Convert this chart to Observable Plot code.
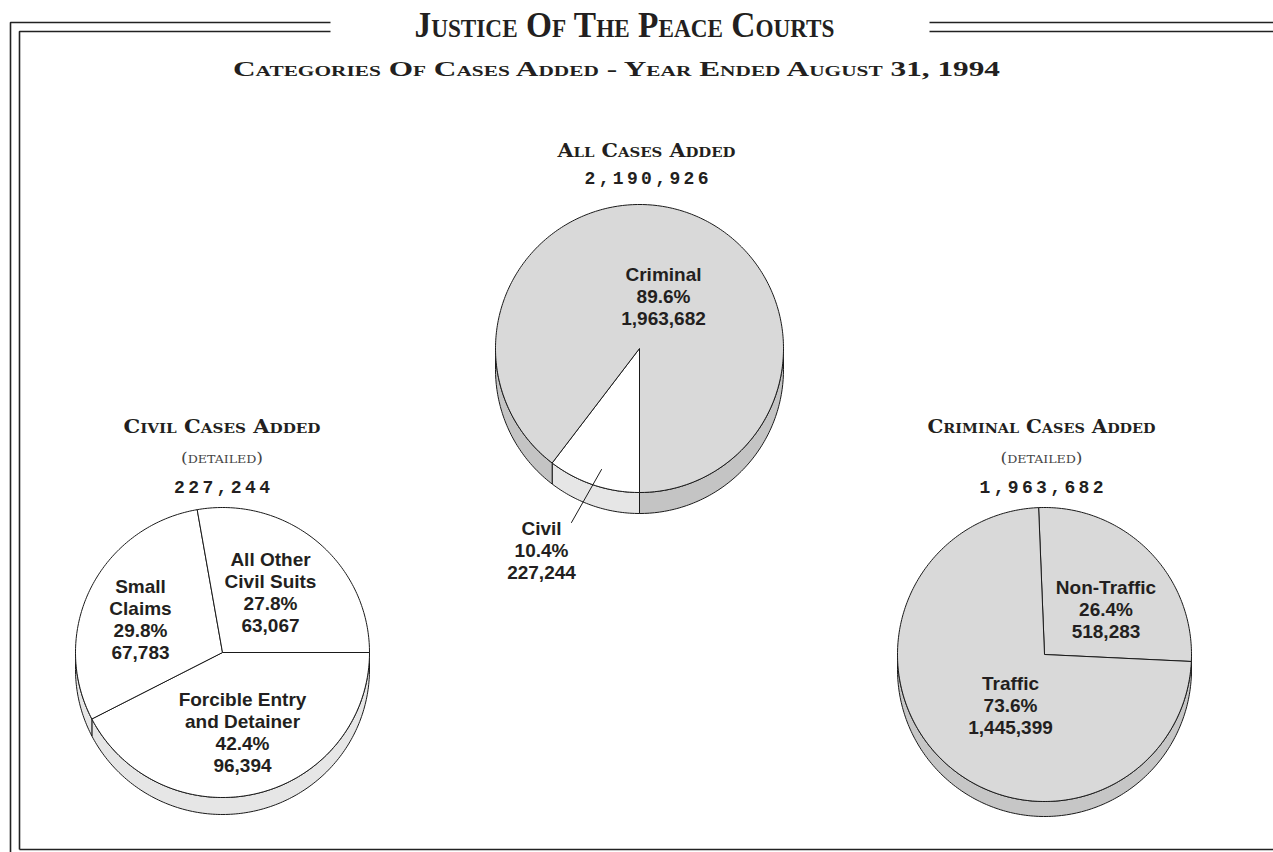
<!DOCTYPE html>
<html><head><meta charset="utf-8">
<script src="https://cdn.jsdelivr.net/npm/d3@7"></script>
<script src="https://cdn.jsdelivr.net/npm/@observablehq/plot@0.6"></script>
<style>body{margin:0;background:#fff;} #chart svg{display:block;}</style>
</head><body><div id="chart"></div>
<script>
// ---------------- data ----------------
const chartTitle = "Justice Of The Peace Courts";
const chartSubtitle = "Categories Of Cases Added - Year Ended August 31, 1994";

const allTitle = "All Cases Added";
const allTotal = 2190926;
const allCategories = ["Civil", "Criminal"];
const allLabelLines = [["Civil"], ["Criminal"]];
const allValues = [227244, 1963682];
const allPercents = [10.4, 89.6];

const civilTitle = "Civil Cases Added";
const civilTotal = 227244;
const civilCategories = ["Forcible Entry and Detainer", "Small Claims", "All Other Civil Suits"];
const civilLabelLines = [["Forcible Entry", "and Detainer"], ["Small", "Claims"], ["All Other", "Civil Suits"]];
const civilValues = [96394, 67783, 63067];
const civilPercents = [42.4, 29.8, 27.8];

const criminalTitle = "Criminal Cases Added";
const criminalTotal = 1963682;
const criminalCategories = ["Non-Traffic", "Traffic"];
const criminalLabelLines = [["Non-Traffic"], ["Traffic"]];
const criminalValues = [518283, 1445399];
const criminalPercents = [26.4, 73.6];

const detailedNote = "(detailed)";

// ---------------- layout ----------------
const W = 1273, H = 852;
const INK = "#231f20";
const pies = [
  {cats: allCategories, lines: allLabelLines, values: allValues, pcts: allPercents, title: allTitle, total: allTotal,
   cx: 639, cy: 348, rx: 144, ry: 144, depth: 21, start: Math.PI,
   topFill: ["#ffffff", "#d9d9d9"], sideFill: ["#e6e6e6", "#c4c4c4"],
   labels: [[541, 578], [663, 324]], tx: 646, titleY: 156, numY: 183, detailed: false, titleW: 178, numW: 124},
  {cats: civilCategories, lines: civilLabelLines, values: civilValues, pcts: civilPercents, title: civilTitle, total: civilTotal,
   cx: 222, cy: 652, rx: 147, ry: 145, depth: 17, start: Math.PI / 2,
   topFill: ["#ffffff", "#ffffff", "#ffffff"], sideFill: ["#e6e6e6", "#e6e6e6", "#e6e6e6"],
   labels: [[242, 771], [140, 658], [270, 631]], tx: 221.5, titleY: 432, numY: 492, detailed: true, titleW: 197, numW: 96},
  {cats: criminalCategories, lines: criminalLabelLines, values: criminalValues, pcts: criminalPercents, title: criminalTitle, total: criminalTotal,
   cx: 1044, cy: 654, rx: 147, ry: 147, depth: 15, start: -0.04,
   topFill: ["#d9d9d9", "#d9d9d9"], sideFill: ["#c6c6c6", "#c6c6c6"],
   labels: [[1105.5, 637], [1010, 733]], tx: 1041, titleY: 432, numY: 492, detailed: true, titleW: 228, numW: 124}
];
const civilLeader = [[601, 469], [571, 522]];
const frame = [
  [[10, 852], [10, 22], [330, 22]],
  [[19, 849], [19, 31], [330, 31]],
  [[929, 22], [1273, 22]],
  [[929, 31], [1273, 31]],
  [[19, 849], [1273, 849]]
];

// ---------------- geometry ----------------
function arcPts(p, a0, a1, dy) {
  const n = Math.max(2, Math.ceil(Math.abs(a1 - a0) / (Math.PI / 180)));
  const pts = [];
  for (let i = 0; i <= n; i++) {
    const a = a0 + (a1 - a0) * i / n;
    pts.push([p.cx + p.rx * Math.sin(a), p.cy - p.ry * Math.cos(a) + dy]);
  }
  return pts;
}
const sidePolys = [], topPolys = [], labelRows = [], titleRows = [], numRows = [], noteRows = [];
const fmt = d3.format(",");
pies.forEach(p => {
  const arcs = d3.pie().sort(null).value(d => d).startAngle(p.start).endAngle(p.start + 2 * Math.PI)(p.values);
  arcs.forEach((a, i) => {
    for (let k = -1; k < 3; k++) {
      const lo = Math.PI / 2 + 2 * Math.PI * k, hi = 3 * Math.PI / 2 + 2 * Math.PI * k;
      const s = Math.max(a.startAngle, lo), e = Math.min(a.endAngle, hi);
      if (e > s) {
        const pts = arcPts(p, s, e, 0).concat(arcPts(p, e, s, p.depth));
        pts.push(pts[0]);
        sidePolys.push({pts, fill: p.sideFill[i]});
      }
    }
    const top = [[p.cx, p.cy], ...arcPts(p, a.startAngle, a.endAngle, 0), [p.cx, p.cy]];
    topPolys.push({pts: top, fill: p.topFill[i]});
    labelRows.push({x: p.labels[i][0], y: p.labels[i][1],
      text: [...p.lines[i], p.pcts[i].toFixed(1) + "%", fmt(p.values[i])].join("\n")});
  });
  titleRows.push({x: p.tx, y: p.titleY, text: p.title, w: p.titleW});
  numRows.push({x: p.tx, y: p.numY, text: fmt(p.total), w: p.numW});
  if (p.detailed) noteRows.push({x: p.tx, y: p.titleY + 30, text: detailedNote});
});

const polyMark = poly => Plot.line(poly.pts, {x: d => d[0], y: d => d[1], fill: poly.fill,
  stroke: "#1a1a1a", strokeWidth: 1, strokeLinejoin: "round", strokeLinecap: "butt"});

const chart = Plot.plot({
  width: W, height: H, margin: 0,
  x: {domain: [0, W], range: [0, W], axis: null},
  y: {domain: [0, H], range: [0, H], axis: null},
  style: {background: "#fff", color: INK},
  marks: [
    ...frame.map(seg => Plot.line(seg, {x: d => d[0], y: d => d[1], stroke: "#222", strokeWidth: 1.6, strokeLinecap: "butt", strokeLinejoin: "miter"})),
    Plot.text([{x: 624, y: 36, text: chartTitle}], {x: "x", y: "y", text: "text", lineAnchor: "bottom",
      fontFamily: "Liberation Serif", fontWeight: "bold", fontSize: 36, fontVariant: "small-caps", fill: INK}),
    Plot.text([{x: 616, y: 75, text: chartSubtitle}], {x: "x", y: "y", text: "text", lineAnchor: "bottom",
      fontFamily: "Liberation Serif", fontWeight: "bold", fontSize: 22, fontVariant: "small-caps", fill: INK}),
    ...sidePolys.map(polyMark),
    ...topPolys.map(polyMark),
    Plot.line(civilLeader, {x: d => d[0], y: d => d[1], stroke: "#1a1a1a", strokeWidth: 1}),
    Plot.text(labelRows, {x: "x", y: "y", text: "text", lineAnchor: "bottom", lineHeight: 22 / 19,
      fontFamily: "Liberation Sans", fontWeight: "bold", fontSize: 19, fill: INK}),
    Plot.text(titleRows, {x: "x", y: "y", text: "text", lineAnchor: "bottom",
      fontFamily: "DejaVu Serif", fontWeight: "bold", fontSize: 18, fontVariant: "small-caps", fill: INK}),
    Plot.text(noteRows, {x: "x", y: "y", text: "text", lineAnchor: "bottom",
      fontFamily: "DejaVu Serif", fontWeight: "normal", fontSize: 15, fontVariant: "small-caps", fill: "#444"}),
    Plot.text(numRows, {x: "x", y: "y", text: "text", lineAnchor: "bottom",
      fontFamily: "Liberation Mono", fontWeight: "bold", fontSize: 18, fill: INK})
  ]
});
document.getElementById("chart").appendChild(chart);

// fit widths of titles to the reference
const fits = new Map([
  [chartTitle, [420, "spacingAndGlyphs"]],
  [chartSubtitle, [767, "spacingAndGlyphs"]],
  ...titleRows.map(r => [r.text, [r.w, "spacingAndGlyphs"]]),
  ...numRows.map(r => [r.text, [r.w, "spacing"]]),
  [detailedNote, [82, "spacingAndGlyphs"]]
]);
chart.querySelectorAll("text").forEach(t => {
  const f = fits.get(t.textContent);
  if (f) { t.setAttribute("textLength", f[0]); t.setAttribute("lengthAdjust", f[1]); }
});
</script></body></html>
